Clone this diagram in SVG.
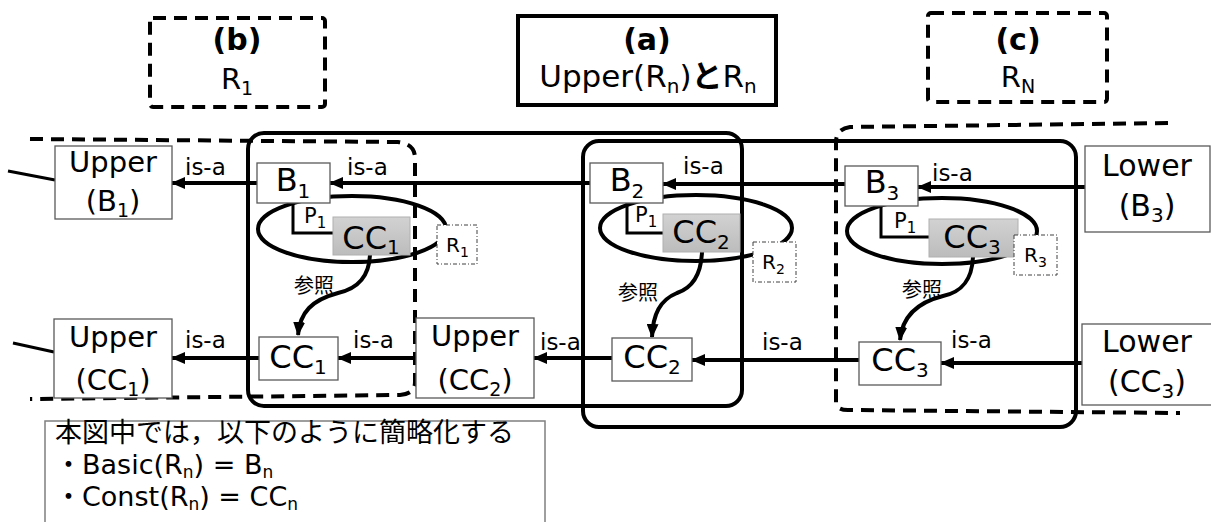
<svg xmlns="http://www.w3.org/2000/svg" width="1211" height="522" viewBox="0 0 1211 522">
<defs>
<marker id="ah" viewBox="0 0 14 12" refX="13" refY="6" markerWidth="14" markerHeight="12" markerUnits="userSpaceOnUse" orient="auto"><path d="M0,0 L14,6 L0,12 z" fill="#000"/></marker>
<linearGradient id="gray" x1="0" y1="0" x2="0" y2="1"><stop offset="0" stop-color="#d2d2d2"/><stop offset="1" stop-color="#bcbcbc"/></linearGradient>
</defs>
<style>
text{font-family:"DejaVu Sans","Noto Sans CJK JP",sans-serif;fill:#000}
.node{fill:#fff;stroke:#595959;stroke-width:1.3}
.cc{fill:url(#gray);stroke:#b0b0b0;stroke-width:1}
.rbox{fill:#fff;stroke:#404040;stroke-width:1;stroke-dasharray:4 2 1 2}
.thick{fill:none;stroke:#000;stroke-width:4}
.dash{fill:none;stroke:#000;stroke-width:4;stroke-dasharray:13 8}
.arrow{fill:none;stroke:#000;stroke-width:4;marker-end:url(#ah)}
.thin{fill:none;stroke:#000;stroke-width:3}
.big{font-size:29px}
.lbl{font-size:32px}
.isa{font-size:23px}
.pl{font-size:21px}
.rl{font-size:20px}
.ref{font-size:20px}
.leg{font-size:27px}
</style>

<!-- titles -->
<g id="title-b">
<rect x="150" y="18" width="175" height="89" rx="3" class="dash"/>
<text x="237" y="50" text-anchor="middle" font-size="30" font-weight="bold">(b)</text>
<text x="237" y="89" text-anchor="middle" font-size="29">R<tspan font-size="19" dy="6">1</tspan></text>
</g>
<g id="title-a">
<rect x="518" y="16" width="258" height="89" class="thick"/>
<text x="647" y="50" text-anchor="middle" font-size="30" font-weight="bold">(a)</text>
<text x="648" y="87" text-anchor="middle" font-size="31">Upper(R<tspan font-size="20" dy="6">n</tspan><tspan dy="-6">)</tspan><tspan font-weight="bold">と</tspan>R<tspan font-size="20" dy="6">n</tspan></text>
</g>
<g id="title-c">
<rect x="928" y="13" width="179" height="89" rx="3" class="dash"/>
<text x="1018" y="50" text-anchor="middle" font-size="30" font-weight="bold">(c)</text>
<text x="1018" y="87" text-anchor="middle" font-size="29">R<tspan font-size="19" dy="6">N</tspan></text>
</g>

<!-- regions -->
<g id="regions">
<path class="dash" d="M 30 139 L 398 142 Q 415 144 415 158 L 415 382 Q 415 394 400 395 L 30 399"/>
<rect x="248" y="133" width="494" height="273" rx="16" class="thick"/>
<rect x="583" y="141" width="493" height="286" rx="16" class="thick"/>
<path class="dash" d="M 1168 123 L 850 127 Q 836 129 836 142 L 836 402 Q 836 410 848 410 L 1180 413"/>
<ellipse cx="352" cy="229" rx="94" ry="33" class="thick"/>
<ellipse cx="696" cy="228" rx="96" ry="33" class="thick"/>
<ellipse cx="942" cy="231" rx="95" ry="33" class="thick"/>
</g>

<!-- connectors -->
<g id="connectors">
<path class="thin" d="M 8 171 L 55 180"/>
<path class="thin" d="M 13 343 L 54 352"/>
<line class="arrow" x1="257" y1="183" x2="172" y2="183"/>
<line class="arrow" x1="590" y1="183" x2="330" y2="183"/>
<line class="arrow" x1="845" y1="184" x2="663" y2="184"/>
<line class="arrow" x1="1085" y1="187" x2="918" y2="187"/>
<line class="arrow" x1="259" y1="358" x2="172" y2="358"/>
<line class="arrow" x1="416" y1="358" x2="338" y2="358"/>
<line class="arrow" x1="612" y1="358" x2="534" y2="358"/>
<line class="arrow" x1="859" y1="360" x2="692" y2="360"/>
<line class="arrow" x1="1082" y1="363" x2="941" y2="363"/>
<path class="thin" d="M 293 203 L 293 233 L 333 233"/>
<path class="thin" d="M 627 203 L 627 233 L 663 233"/>
<path class="thin" d="M 881 206 L 881 237 L 929 237"/>
<path class="arrow" d="M 370 255 C 369 278 356 289 338 293 C 312 300 300 312 298 335"/>
<path class="arrow" d="M 702 252 C 701 276 692 288 677 293 C 660 300 653 314 652 337"/>
<path class="arrow" d="M 973 257 C 972 280 962 292 943 296 C 915 303 902 318 900 340"/>
<text x="185" y="175" class="isa">is-a</text>
<text x="347" y="175" class="isa">is-a</text>
<text x="683" y="174" class="isa">is-a</text>
<text x="932" y="181" class="isa">is-a</text>
<text x="185" y="348" class="isa">is-a</text>
<text x="353" y="348" class="isa">is-a</text>
<text x="540" y="350" class="isa">is-a</text>
<text x="762" y="350" class="isa">is-a</text>
<text x="951" y="348" class="isa">is-a</text>
<text x="294" y="293" class="ref">参照</text>
<text x="618" y="300" class="ref">参照</text>
<text x="902" y="297" class="ref">参照</text>
</g>

<!-- nodes -->
<g id="upper-b1">
<rect x="55" y="146" width="117" height="73" class="node"/>
<text x="113" y="172" text-anchor="middle" class="big">Upper</text>
<text x="113" y="211" text-anchor="middle" class="big">(B<tspan font-size="19" dy="6">1</tspan><tspan dy="-6">)</tspan></text>
</g>
<g id="b1">
<rect x="257" y="163" width="73" height="40" class="node"/>
<text x="293" y="191" text-anchor="middle" class="lbl">B<tspan font-size="20" dy="7">1</tspan></text>
</g>
<g id="b2">
<rect x="590" y="163" width="73" height="40" class="node"/>
<text x="627" y="191" text-anchor="middle" class="lbl">B<tspan font-size="20" dy="7">2</tspan></text>
</g>
<g id="b3">
<rect x="845" y="166" width="73" height="40" class="node"/>
<text x="882" y="193" text-anchor="middle" class="lbl">B<tspan font-size="20" dy="7">3</tspan></text>
</g>
<g id="lower-b3">
<rect x="1085" y="146" width="125" height="86" class="node"/>
<text x="1147" y="176" text-anchor="middle" font-size="30">Lower</text>
<text x="1147" y="216" text-anchor="middle" font-size="30">(B<tspan font-size="20" dy="6">3</tspan><tspan dy="-6">)</tspan></text>
</g>
<g id="p1-a"><text x="304" y="223" class="pl">P<tspan font-size="15" dy="5">1</tspan></text></g>
<g id="p1-b"><text x="635" y="222" class="pl">P<tspan font-size="15" dy="5">1</tspan></text></g>
<g id="p1-c"><text x="894" y="228" class="pl">P<tspan font-size="15" dy="5">1</tspan></text></g>
<g id="cc1-inner">
<rect x="333" y="217" width="77" height="38" class="cc"/>
<text x="371" y="249" text-anchor="middle" class="lbl">CC<tspan font-size="20" dy="5">1</tspan></text>
</g>
<g id="cc2-inner">
<rect x="663" y="214" width="77" height="38" class="cc"/>
<text x="701" y="243" text-anchor="middle" class="lbl">CC<tspan font-size="20" dy="6">2</tspan></text>
</g>
<g id="cc3-inner">
<rect x="929" y="219" width="89" height="38" class="cc"/>
<text x="972" y="248" text-anchor="middle" class="lbl">CC<tspan font-size="20" dy="6">3</tspan></text>
</g>
<g id="r1">
<rect x="437" y="225" width="40" height="39" class="rbox"/>
<text x="446" y="252" class="rl">R<tspan font-size="14" dy="5">1</tspan></text>
</g>
<g id="r2">
<rect x="753" y="242" width="43" height="40" class="rbox"/>
<text x="762" y="269" class="rl">R<tspan font-size="14" dy="5">2</tspan></text>
</g>
<g id="r3">
<rect x="1014" y="235" width="43" height="40" class="rbox"/>
<text x="1024" y="262" class="rl">R<tspan font-size="14" dy="5">3</tspan></text>
</g>
<g id="upper-cc1">
<rect x="54" y="319" width="118" height="79" class="node"/>
<text x="113" y="347" text-anchor="middle" class="big">Upper</text>
<text x="113" y="390" text-anchor="middle" class="big">(CC<tspan font-size="19" dy="6">1</tspan><tspan dy="-6">)</tspan></text>
</g>
<g id="cc1">
<rect x="259" y="337" width="79" height="43" class="node"/>
<text x="298" y="368" text-anchor="middle" class="lbl">CC<tspan font-size="20" dy="6">1</tspan></text>
</g>
<g id="upper-cc2">
<rect x="416" y="318" width="118" height="80" class="node"/>
<text x="475" y="346" text-anchor="middle" class="big">Upper</text>
<text x="475" y="390" text-anchor="middle" class="big">(CC<tspan font-size="19" dy="6">2</tspan><tspan dy="-6">)</tspan></text>
</g>
<g id="cc2">
<rect x="612" y="338" width="80" height="43" class="node"/>
<text x="652" y="368" text-anchor="middle" class="lbl">CC<tspan font-size="20" dy="6">2</tspan></text>
</g>
<g id="cc3">
<rect x="859" y="342" width="82" height="43" class="node"/>
<text x="900" y="371" text-anchor="middle" class="lbl">CC<tspan font-size="20" dy="6">3</tspan></text>
</g>
<g id="lower-cc3">
<rect x="1082" y="324" width="135" height="81" class="node"/>
<text x="1147" y="352" text-anchor="middle" font-size="30">Lower</text>
<text x="1147" y="392" text-anchor="middle" font-size="30">(CC<tspan font-size="20" dy="6">3</tspan><tspan dy="-6">)</tspan></text>
</g>

<!-- legend -->
<g id="legend">
<rect x="45" y="421" width="500" height="110" fill="#fff" stroke="#7f7f7f" stroke-width="1.5"/>
<text x="55" y="442" class="leg">本図中では，以下のように簡略化する</text>
<text x="55" y="474" class="leg">・Basic(R<tspan font-size="17" dy="4">n</tspan><tspan dy="-4">) = B</tspan><tspan font-size="17" dy="4">n</tspan></text>
<text x="55" y="506" class="leg">・Const(R<tspan font-size="17" dy="4">n</tspan><tspan dy="-4">) = CC</tspan><tspan font-size="17" dy="4">n</tspan></text>
</g>
</svg>
